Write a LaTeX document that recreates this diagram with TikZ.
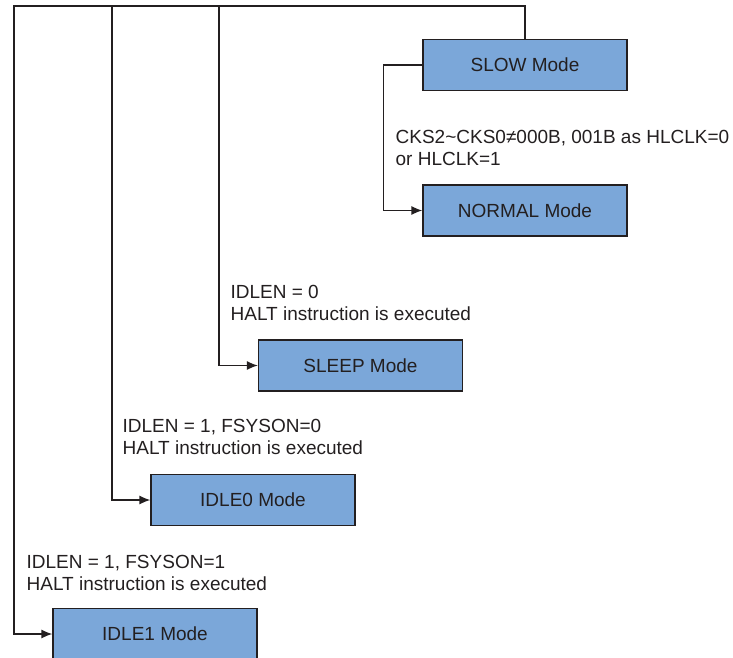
\documentclass[tikz,border=0pt]{standalone}
\usepackage{fontspec}
\setmainfont{Liberation Sans}
\usetikzlibrary{arrows.meta}
\definecolor{ink}{RGB}{35,31,32}
\definecolor{modeblue}{RGB}{123,167,217}
\tikzset{every path/.style={line width=1.3pt}, modebox/.style={draw=ink,fill=modeblue,minimum width=204pt,minimum height=51pt,inner sep=0pt,font=\fontsize{19}{22}\selectfont}, cond/.style={anchor=north west,align=left,inner sep=0pt,font=\fontsize{19}{22}\selectfont}, arr/.style={-{Latex[length=11pt,width=9pt]}}}

\begin{document}
\begin{tikzpicture}[x=1pt,y={(0pt,-1pt)},color=ink]
   \useasboundingbox (0,0) rectangle (733,658);
   % mode boxes
   \node[modebox] (slow)   at (525,65)    {SLOW Mode};
   \node[modebox] (normal) at (525,210.5) {NORMAL Mode};
   \node[modebox] (sleep)  at (360.5,365.5) {SLEEP Mode};
   \node[modebox] (idle0)  at (253,500)   {IDLE0 Mode};
   \node[modebox] (idle1)  at (155,634)   {IDLE1 Mode};
   % conditions
   \node[cond] (cnormal) at (395,130) {CKS2\textasciitilde CKS0≠000B, 001B as HLCLK=0\\or HLCLK=1};
   \node[cond] (csleep)  at (230,285) {IDLEN = 0\\HALT instruction is executed};
   \node[cond] (cidle0)  at (122,419) {IDLEN = 1, FSYSON=0\\HALT instruction is executed};
   \node[cond] (cidle1)  at (26,555)  {IDLEN = 1, FSYSON=1\\HALT instruction is executed};
   % connectors
   \coordinate (bsleep) at (219,6);
   \coordinate (bidle0) at (112,6);
   \draw[arr] (slow.north) |- (14,6) |- (idle1.west);
   \draw[arr] (bidle0) |- (idle0.west);
   \draw[arr] (bsleep) |- (sleep.west);
   \draw[arr] (slow.west) -- ++(-39,0) |- (normal.west);
\end{tikzpicture}
\end{document}
